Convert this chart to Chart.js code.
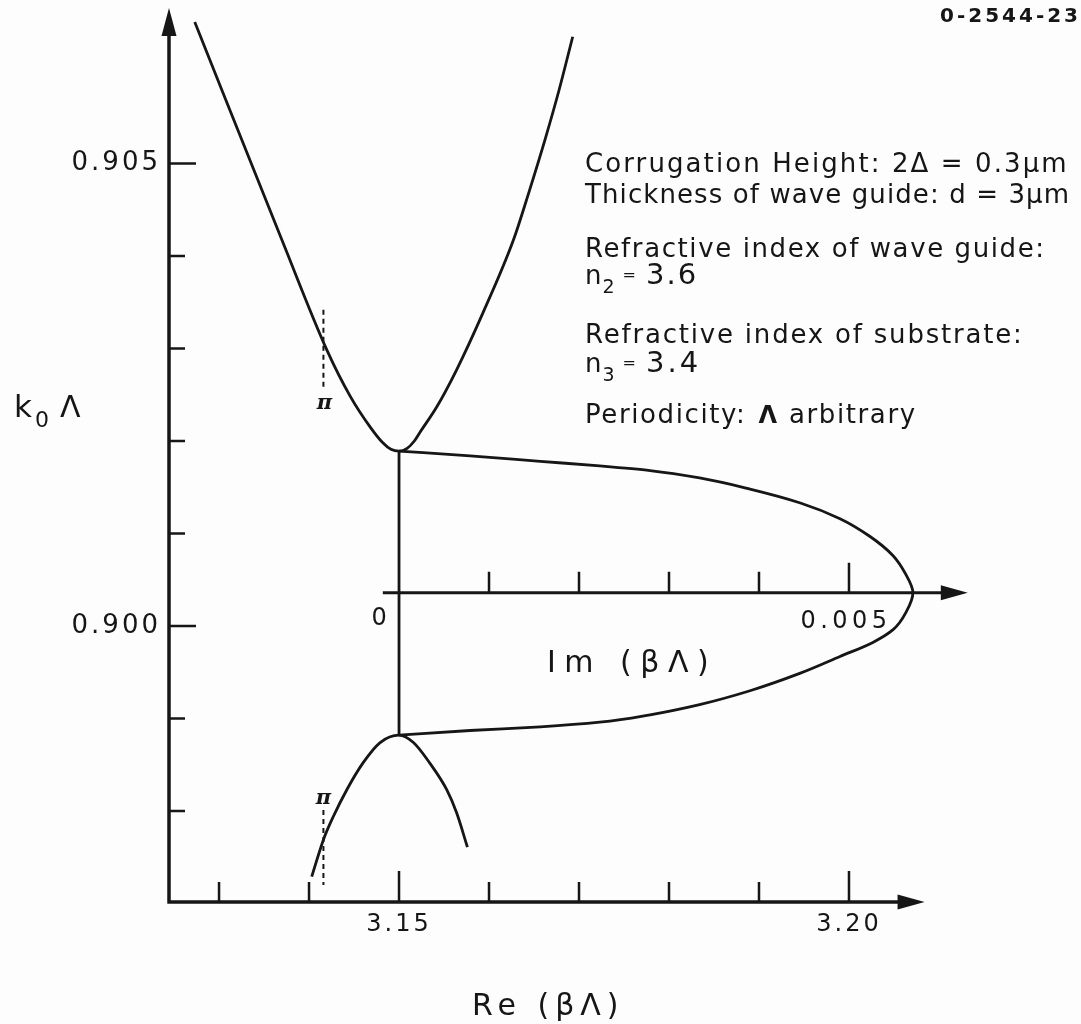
<!DOCTYPE html>
<html>
<head>
<meta charset="utf-8">
<title>Dispersion in a corrugated wave guide</title>
<script src="https://cdn.jsdelivr.net/npm/chart.js@4.4.1/dist/chart.umd.min.js"></script>
<style>
  html, body { margin: 0; padding: 0; background: #fdfdfd; }
  #wrap { width: 1081px; height: 1024px; }
</style>
</head>
<body>
<div id="wrap"><canvas id="myChart" width="1081" height="1024"></canvas></div>
<script>
// upper pass band: k0Λ against Re(βΛ)
let upperRe = [3.1273, 3.1370, 3.1420, 3.1446, 3.1468, 3.1482, 3.1491, 3.1500, 3.1509, 3.1517, 3.1523, 3.1542, 3.1564, 3.1593, 3.1627, 3.1645, 3.1662, 3.1678, 3.1693];
let upperK  = [0.90653, 0.90417, 0.90298, 0.90248, 0.90215, 0.90198, 0.90191, 0.90189, 0.90192, 0.90200, 0.90209, 0.90237, 0.90277, 0.90338, 0.90417, 0.90471, 0.90525, 0.90580, 0.90637];

// lower pass band
let lowerRe = [3.1403, 3.1416, 3.1427, 3.1442, 3.1460, 3.1479, 3.1500, 3.1516, 3.1534, 3.1553, 3.1564, 3.1576];
let lowerK  = [0.89729, 0.89769, 0.89794, 0.89823, 0.89852, 0.89874, 0.89882, 0.89874, 0.89852, 0.89823, 0.89798, 0.89761];

// inside the stop band Re(βΛ) stays fixed
let gapRe = [3.15, 3.15];
let gapK  = [0.89882, 0.90189];

// Im(βΛ) across the stop band, from the upper band edge round to the lower one
let imVal = [0, 0.00079, 0.00157, 0.00223, 0.00279, 0.00334, 0.00390, 0.00446, 0.00490, 0.00523, 0.00549, 0.00563, 0.00571,
             0.00564, 0.00549, 0.00526, 0.00490, 0.00446, 0.00390, 0.00334, 0.00279, 0.00223, 0.00157, 0.00079, 0];
let imK   = [0.90189, 0.90184, 0.90178, 0.90173, 0.90168, 0.90160, 0.90148, 0.90133, 0.90116, 0.90097, 0.90076, 0.90056, 0.90036,
             0.90016, 0.89996, 0.89982, 0.89967, 0.89949, 0.89930, 0.89915, 0.89904, 0.89896, 0.89891, 0.89887, 0.89882];

// dashed markers where Re(βΛ) = π
let piRe = 3.1416;
let piUpperK = [0.90342, 0.90257];
let piLowerK = [0.89801, 0.89720];

// axes
let reTicks  = [3.13, 3.14, 3.15, 3.16, 3.17, 3.18, 3.19, 3.20];
let reLabels = [3.15, 3.20];
let kTicks   = [0.898, 0.899, 0.900, 0.901, 0.902, 0.903, 0.904, 0.905];
let kLabels  = [0.900, 0.905];
let imTicks  = [0.001, 0.002, 0.003, 0.004, 0.005];
let imLabels = [0, 0.005];
let imAxisK  = 0.90036;

let reMin = 3.12444, reMax = 3.21678, reArrow = 3.2084;
let kMin = 0.897016, kMax = 0.906681;
let imStart = -0.00018, imArrow = 0.00632;

const ink = '#161616';
const face = 'DejaVu Sans';

function toPoints(xs, ys) {
    let pts = [];
    for (let i in xs) {
        pts.push({ x: xs[i], y: ys[i] });
    }
    return pts;
}

function isMajor(v, list) {
    return list.some(function(m) { return Math.abs(m - v) < 1e-9; });
}

function arrowUp(ctx, x, y) {
    ctx.beginPath();
    ctx.moveTo(x, y);
    ctx.lineTo(x - 7.5, y + 28);
    ctx.lineTo(x + 7.5, y + 28);
    ctx.closePath();
    ctx.fill();
}

function arrowRight(ctx, x, y) {
    ctx.beginPath();
    ctx.moveTo(x, y);
    ctx.lineTo(x - 27, y - 7.5);
    ctx.lineTo(x - 27, y + 7.5);
    ctx.closePath();
    ctx.fill();
}

function text(ctx, str, x, y, size, spacing, opts) {
    opts = opts || {};
    ctx.font = (opts.style || '') + ' ' + (opts.weight || 'normal') + ' ' + size + 'px "' + (opts.family || face) + '"';
    ctx.letterSpacing = spacing + 'px';
    ctx.textAlign = opts.align || 'left';
    ctx.textBaseline = 'alphabetic';
    ctx.fillText(str, x, y);
    return x + ctx.measureText(str).width;
}

function noPadding(axis) {
    axis.paddingTop = 0;
    axis.paddingBottom = 0;
    axis.paddingLeft = 0;
    axis.paddingRight = 0;
}

function drawAxes(chart) {
    let ctx = chart.ctx;
    let sx = chart.scales.x, sy = chart.scales.y, si = chart.scales.xIm;
    let x0 = sx.getPixelForValue(reMin);
    let y0 = sy.getPixelForValue(kMin);
    let yTop = sy.getPixelForValue(kMax);
    let xEnd = sx.getPixelForValue(reArrow);
    let yIm = sy.getPixelForValue(imAxisK);
    let iStart = si.getPixelForValue(imStart);
    let iEnd = si.getPixelForValue(imArrow);

    ctx.save();
    ctx.strokeStyle = ink;
    ctx.fillStyle = ink;
    ctx.lineWidth = 3.5;
    ctx.beginPath();
    ctx.moveTo(x0, y0 + 1.5);
    ctx.lineTo(x0, yTop + 20);
    ctx.moveTo(x0 - 1.5, y0);
    ctx.lineTo(xEnd - 20, y0);
    ctx.stroke();
    ctx.lineWidth = 3;
    ctx.beginPath();
    ctx.moveTo(iStart, yIm);
    ctx.lineTo(iEnd - 20, yIm);
    ctx.stroke();
    arrowUp(ctx, x0, yTop);
    arrowRight(ctx, xEnd, y0);
    arrowRight(ctx, iEnd, yIm);

    // tick marks point into the plot
    ctx.lineWidth = 2.5;
    ctx.beginPath();
    for (let v of kTicks) {
        let p = sy.getPixelForValue(v);
        ctx.moveTo(x0, p);
        ctx.lineTo(x0 + (isMajor(v, kLabels) ? 27 : 16), p);
    }
    for (let v of reTicks) {
        let p = sx.getPixelForValue(v);
        ctx.moveTo(p, y0);
        ctx.lineTo(p, y0 - (isMajor(v, reLabels) ? 31 : 20));
    }
    for (let v of imTicks) {
        let p = si.getPixelForValue(v);
        ctx.moveTo(p, yIm);
        ctx.lineTo(p, yIm - (isMajor(v, imLabels) ? 30 : 21));
    }
    ctx.stroke();
    ctx.restore();
}

function drawNotes(chart) {
    let ctx = chart.ctx;
    let sx = chart.scales.x, sy = chart.scales.y, si = chart.scales.xIm;
    let yIm = sy.getPixelForValue(imAxisK);
    ctx.save();
    ctx.fillStyle = ink;

    // Im axis numbers sit just under the axis, left of their ticks
    text(ctx, '0', si.getPixelForValue(imLabels[0]) - 20, yIm + 32, 24, 0, { align: 'center' });
    text(ctx, imLabels[1].toFixed(3), si.getPixelForValue(imLabels[1]) - 3, yIm + 35, 24, 4.5, { align: 'center' });

    // axis titles
    text(ctx, 'Re (βΛ)', 472, 1015, 30, 6);
    text(ctx, 'Im (βΛ)', 547, 672, 30, 8.5);
    let nx = text(ctx, 'k', 14, 417, 31, 0);
    text(ctx, '0', nx + 3, 427, 22, 0);
    text(ctx, 'Λ', 60, 417, 30, 0);

    // π markers
    let pp = sx.getPixelForValue(piRe);
    let piFont = { family: 'DejaVu Serif', style: 'italic', weight: 'bold', align: 'center' };
    text(ctx, 'π', pp + 1, sy.getPixelForValue(piUpperK[1]) + 21, 21, 0, piFont);
    text(ctx, 'π', pp, sy.getPixelForValue(piLowerK[0]) - 6, 21, 0, piFont);

    // parameters
    let px = 585;
    text(ctx, 'Corrugation Height: 2Δ = 0.3μm', px, 172, 26, 2.1);
    text(ctx, 'Thickness of wave guide: d = 3μm', px, 203, 26, 1.1);
    text(ctx, 'Refractive index of wave guide:', px, 257, 26, 1.6);
    let e = text(ctx, 'n', px, 284, 26, 0);
    e = text(ctx, '2', e + 1, 293, 19, 0);
    e = text(ctx, '=', e + 8, 280, 16, 0);
    text(ctx, '3.6', e + 10, 284, 29, 2);
    text(ctx, 'Refractive index of substrate:', px, 343, 26, 1.8);
    e = text(ctx, 'n', px, 372, 26, 0);
    e = text(ctx, '3', e + 1, 381, 19, 0);
    e = text(ctx, '=', e + 8, 368, 16, 0);
    text(ctx, '3.4', e + 10, 372, 29, 3);
    e = text(ctx, 'Periodicity:', px, 423, 26, 1.6);
    e = text(ctx, 'Λ', e + 12, 423, 24, 0, { weight: 'bold' });
    text(ctx, 'arbitrary', e + 12, 423, 26, 1.6);

    text(ctx, '0-2544-23', 940, 22, 20, 3, { weight: 'bold' });
    ctx.restore();
}

const axesPlugin = {
    id: 'axesPlugin',
    beforeDraw: function(chart) {
        let ctx = chart.ctx;
        ctx.save();
        ctx.fillStyle = '#fdfdfd';
        ctx.fillRect(0, 0, chart.width, chart.height);
        ctx.restore();
        // wide spacing for the tick numbers drawn by the scales
        ctx.letterSpacing = '3px';
    },
    beforeDatasetsDraw: function(chart) {
        drawAxes(chart);
    },
    afterDraw: function(chart) {
        drawNotes(chart);
        chart.ctx.letterSpacing = '0px';
    }
};

let curve = {
    borderColor: ink,
    backgroundColor: ink,
    borderWidth: 2.8,
    pointRadius: 0,
    pointHoverRadius: 0,
    cubicInterpolationMode: 'monotone',
    fill: false
};
let straight = { cubicInterpolationMode: 'default', tension: 0 };
let dashed = { borderWidth: 2, borderDash: [5, 4] };

let chartData = {
    datasets: [
        Object.assign({}, curve, { label: 'upper band', data: toPoints(upperRe, upperK) }),
        Object.assign({}, curve, { label: 'lower band', data: toPoints(lowerRe, lowerK) }),
        Object.assign({}, curve, straight, { label: 'stop band', data: toPoints(gapRe, gapK) }),
        // k0Λ is the running variable here, so the spline follows y
        Object.assign({}, curve, { label: 'Im', indexAxis: 'y', xAxisID: 'xIm', data: toPoints(imVal, imK) }),
        Object.assign({}, curve, straight, dashed, { label: 'pi upper', data: toPoints([piRe, piRe], piUpperK) }),
        Object.assign({}, curve, straight, dashed, { label: 'pi lower', data: toPoints([piRe, piRe], piLowerK) })
    ]
};

let graphTarget = document.getElementById('myChart');
let dispersionChart = new Chart(graphTarget, {
    type: 'line',
    data: chartData,
    options: {
        responsive: false,
        animation: false,
        events: [],
        layout: { padding: { left: 0, right: 81, top: 8, bottom: 0 } },
        plugins: {
            legend: { display: false },
            tooltip: { enabled: false }
        },
        scales: {
            x: {
                type: 'linear',
                min: reMin,
                max: reMax,
                afterFit: function(axis) { axis.height = 122; noPadding(axis); },
                afterBuildTicks: function(axis) {
                    axis.ticks = reLabels.map(function(v) { return { value: v }; });
                },
                grid: { display: false, drawTicks: false },
                border: { display: false },
                ticks: {
                    padding: 8,
                    maxRotation: 0,
                    color: ink,
                    font: { family: face, size: 24 },
                    callback: function(value) { return value.toFixed(2); }
                }
            },
            y: {
                type: 'linear',
                min: kMin,
                max: kMax,
                afterFit: function(axis) { axis.width = 169; noPadding(axis); },
                afterBuildTicks: function(axis) {
                    axis.ticks = kLabels.map(function(v) { return { value: v }; });
                },
                grid: { display: false, drawTicks: false },
                border: { display: false },
                ticks: {
                    padding: 8,
                    color: ink,
                    font: { family: face, size: 26 },
                    callback: function(value) { return value.toFixed(3); }
                }
            },
            xIm: {
                type: 'linear',
                axis: 'x',
                display: false,
                min: (reMin - 3.15) / 10,
                max: (reMax - 3.15) / 10
            }
        }
    },
    plugins: [axesPlugin]
});
</script>
</body>
</html>
